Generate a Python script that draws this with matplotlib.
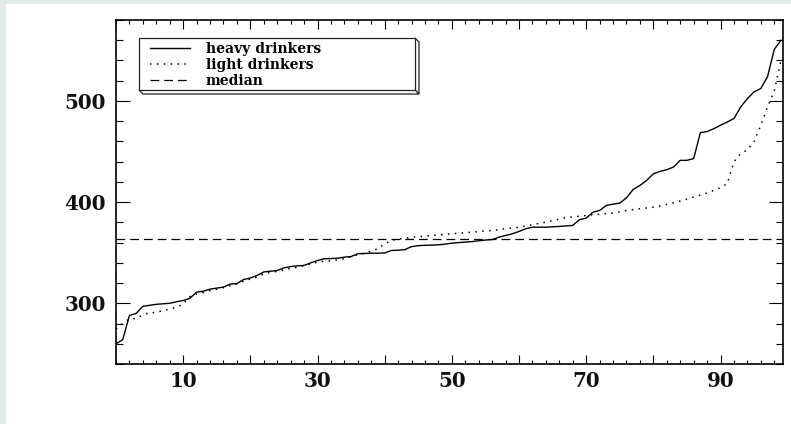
import numpy as np
import matplotlib
matplotlib.use("Agg")
import matplotlib.pyplot as plt
from matplotlib.patches import Rectangle, Polygon
from matplotlib.ticker import FixedLocator, MultipleLocator

# sorted values (index 0..99)
heavy = [260, 264, 288, 290, 297, 298, 299, 299.5, 300, 301.5,
         302.7, 305, 311, 312, 314, 315, 316, 319, 319.5, 323.5,
         325, 327.5, 331, 331.7, 332.4, 335, 336.3, 337, 337.5, 340,
         342.3, 344, 344.2, 344.6, 345.6, 346.2, 349, 349.2, 349.5, 349.5,
         349.7, 352.2, 352.5, 353, 356, 357, 357.3, 357.5, 357.8, 358.5,
         359.4, 360, 360.5, 361, 361.8, 362.5, 363, 365.3, 367, 368.7,
         371, 373.7, 375.2, 375.2, 375.2, 375.6, 376, 376.5, 377, 382.6,
         384.2, 390, 391.8, 396.7, 398, 399, 404.3, 412.5, 416.5, 421.5,
         428, 430.4, 432, 434.7, 441.3, 441.3, 443, 468.7, 469.7, 472.6,
         476, 479.2, 482.6, 494, 502.4, 509, 512.3, 524, 551, 560]
light = [274.6, 280, 284.6, 285, 288.5, 290.5, 291, 292.8, 294.4, 296,
         299.4, 306.6, 309, 310.5, 312.6, 314, 315.5, 317.5, 319, 322,
         324, 326, 329, 330.7, 331.5, 333, 334.5, 335.6, 337, 339,
         340.6, 341.5, 342, 343, 344, 346, 348, 349.5, 351.5, 354,
         358.8, 362, 363.5, 364.3, 365.3, 365.8, 366.4, 367, 367.6, 368.2,
         368.7, 369.2, 369.8, 370.3, 370.9, 371.5, 372, 372.8, 373.7, 374.4,
         375.2, 376.4, 377.6, 379, 380.2, 381.7, 383.2, 384.6, 385.4, 386.1,
         386.8, 387.5, 388, 388.6, 389.1, 390.4, 391.8, 392.6, 393.5, 394.2,
         395, 396.3, 397.7, 399.3, 401, 403, 405, 407, 409, 411.6,
         414.3, 418.2, 440, 448, 451.5, 460, 476, 494, 510, 540]
median = 364

x_ticks = [10, 20, 30, 40, 50, 60, 70, 80, 90]
x_labels = ['10', '', '30', '', '50', '', '70', '', '90']
labels = ['heavy drinkers', 'light drinkers', 'median']

W, H = 791, 424
fig = plt.figure(figsize=(W / 100, H / 100), dpi=100)
fig.patch.set_facecolor('#e3ebe8')
fig.patches.append(Rectangle((6 / W, 0), 1, 1 - 4 / H, transform=fig.transFigure,
                             facecolor='white', edgecolor='none', zorder=-10))

ax = fig.add_axes([116 / W, (H - 364) / H, (783 - 116) / W, (364 - 20) / H])
ax.set_facecolor('white')

x = np.arange(len(heavy))
ax.plot(x, heavy, color='black', lw=1.0, ls='-', label=labels[0])
ax.plot(x, light, color='black', lw=1.1, ls=(0, (1, 3.5)), label=labels[1])
ax.axhline(median, color='black', lw=0.9, ls=(0, (7, 4)), label=labels[2])

ax.set_xlim(0, 99.3)
ax.set_ylim(240, 580)

ax.xaxis.set_major_locator(FixedLocator(x_ticks))
ax.set_xticklabels(x_labels)
ax.xaxis.set_minor_locator(MultipleLocator(2))
ax.yaxis.set_major_locator(MultipleLocator(100))
ax.yaxis.set_minor_locator(MultipleLocator(20))

ax.tick_params(axis='both', which='both', direction='in', top=True, right=True, width=0.8)
ax.tick_params(axis='y', which='major', length=10, pad=7.5)
ax.tick_params(axis='y', which='minor', length=5)
ax.tick_params(axis='x', which='major', length=6.5, pad=5)
ax.tick_params(axis='x', which='minor', length=3.2)
for lab in ax.get_xticklabels() + ax.get_yticklabels():
    lab.set_fontfamily('DejaVu Serif')
    lab.set_fontweight('bold')
    lab.set_fontsize(14.3)
    lab.set_color('#111111')
for s in ax.spines.values():
    s.set_linewidth(1.2)

# legend frame with a 3d edge
L, R, T, B = 23 / 667, 299 / 667, 1 - 18 / 344, 1 - 70 / 344
dx, dy = 4 / 667, 4 / 344
box_kw = dict(transform=ax.transAxes, facecolor='white', edgecolor='#222222', lw=0.9, zorder=5)
ax.add_patch(Polygon([(R, T), (R + dx, T - dy), (R + dx, B - dy), (R, B)], **box_kw))
ax.add_patch(Polygon([(L, B), (R, B), (R + dx, B - dy), (L + dx, B - dy)], **box_kw))
ax.add_patch(Rectangle((L, B), R - L, T - B, **box_kw))

leg = ax.legend(loc='upper left', bbox_to_anchor=(34 / 667, 1 - 22 / 344), frameon=False,
                borderpad=0, borderaxespad=0, labelspacing=0.15, handlelength=2.9,
                handletextpad=1.1, prop={'family': 'DejaVu Serif', 'weight': 'bold', 'size': 10})
leg.set_zorder(6)

fig.savefig('out.png', dpi=100, facecolor=fig.get_facecolor())
